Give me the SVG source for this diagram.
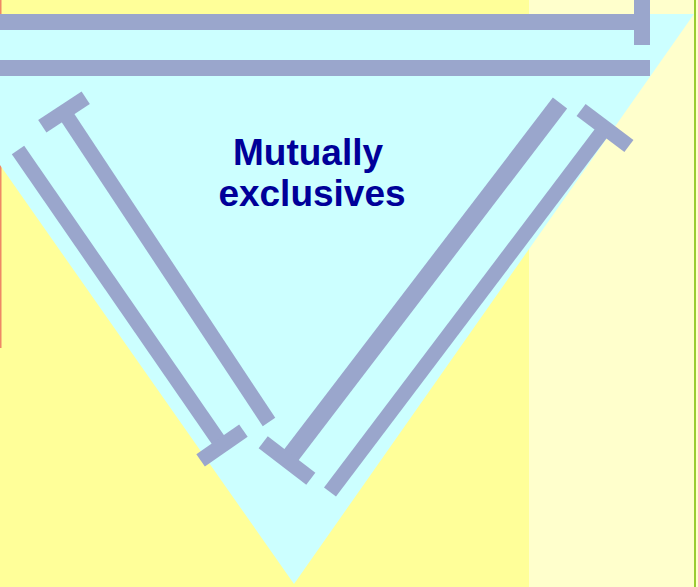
<svg xmlns="http://www.w3.org/2000/svg" width="698" height="587" viewBox="0 0 698 587">
<style>
.bar{stroke:#9AA6CC;fill:none;stroke-linecap:butt}
.t14{stroke-width:15}
.t16{stroke-width:16}
.t18{stroke-width:18}
.lbl{font-family:"Liberation Sans",Arial,sans-serif;font-weight:bold;font-size:37px;fill:#000099;text-anchor:middle}
</style>
<g id="background">
<rect x="0" y="0" width="529" height="587" fill="#FFFF99"/>
<rect x="529" y="0" width="169" height="587" fill="#FFFFCC"/>
<rect x="0" y="0" width="1.5" height="348" fill="#EE8866"/>
<rect x="694" y="0" width="2" height="587" fill="#99CC33"/>
</g>
<g id="triangle">
<polygon points="-106,14 694,14 294,584" fill="#CCFFFF"/>
</g>
<g id="connectors">
<line class="bar t16" x1="0" y1="22" x2="642" y2="22"/>
<line class="bar t16" x1="642" y1="-1" x2="642" y2="45"/>
<line class="bar t16" x1="0" y1="68" x2="650" y2="68"/>
<line class="bar t14" x1="64" y1="112" x2="269" y2="422"/>
<line class="bar t14" x1="42.3" y1="126.3" x2="85.7" y2="97.7"/>
<line class="bar t14" x1="18" y1="150" x2="222" y2="445.5"/>
<line class="bar t14" x1="200.6" y1="460.3" x2="243.4" y2="430.7"/>
<line class="bar t18" x1="560" y1="103" x2="287" y2="460.5"/>
<line class="bar t14" x1="263.2" y1="442.3" x2="310.8" y2="478.7"/>
<line class="bar t14" x1="605" y1="128" x2="330" y2="492"/>
<line class="bar t14" x1="581.1" y1="109.9" x2="628.9" y2="146.1"/>
</g>
<g id="label">
<text class="lbl" x="308" y="165">Mutually</text>
<text class="lbl" x="312" y="206">exclusives</text>
</g>
</svg>
